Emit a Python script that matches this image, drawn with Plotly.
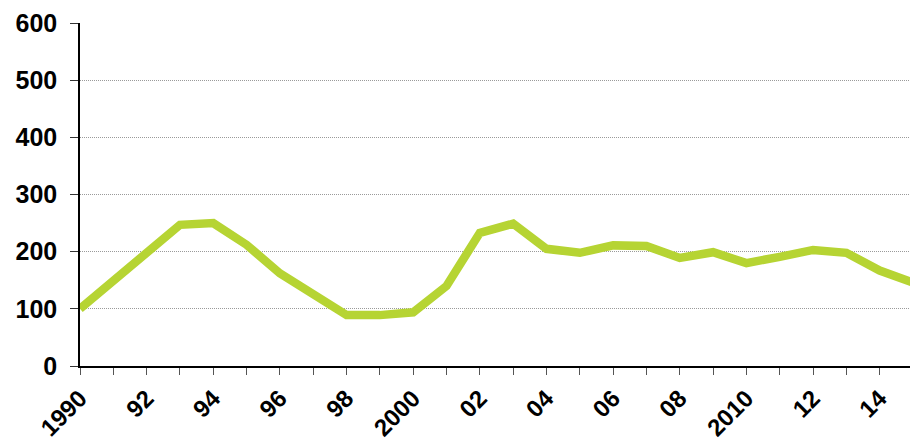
import plotly.graph_objects as go

years = list(range(1990, 2016))
values = [100, 150, 199, 247, 250, 212, 162, 127, 89, 89, 94, 140, 233, 249,
          205, 198, 211, 210, 189, 199, 180, 191, 203, 198, 167, 146]

x_tick_vals = list(range(1990, 2016))
x_tick_text = ["1990", "", "92", "", "94", "", "96", "", "98", "", "2000", "",
               "02", "", "04", "", "06", "", "08", "", "2010", "", "12", "", "14", ""]
y_tick_vals = [0, 100, 200, 300, 400, 500, 600]
grid_vals = [100, 200, 300, 400, 500]

font_family = "Arial, 'Liberation Sans', sans-serif"

fig = go.Figure()
# invisible trace on overlay axis for dotted gridlines
fig.add_trace(go.Scatter(x=[years[0]], y=[0], yaxis="y2", mode="markers",
                         marker=dict(opacity=0), showlegend=False, hoverinfo="skip"))
fig.add_trace(go.Scatter(
    x=years, y=values, mode="lines",
    line=dict(color="#B6D433", width=8.5),
    hoverinfo="skip", showlegend=False,
))

fig.update_layout(
    width=910, height=440,
    margin=dict(l=80, r=0, t=23, b=74),
    paper_bgcolor="white", plot_bgcolor="white",
    font=dict(family=font_family, size=24, color="black"),
    xaxis=dict(
        range=[1990, 2014.91], automargin=False,
        tickmode="array", tickvals=x_tick_vals, ticktext=x_tick_text,
        tickangle=-45, ticks="outside", ticklen=7, tickcolor="#555",
        showline=True, linecolor="black", linewidth=1.5,
        showgrid=False, zeroline=False,
        ticklabelstandoff=0,
        tickfont=dict(family=font_family, size=24, color="black", weight="bold"),
    ),
    yaxis=dict(
        range=[0, 600], automargin=False,
        tickmode="array", tickvals=y_tick_vals,
        ticks="outside", ticklen=8, tickcolor="#333",
        showline=True, linecolor="black", linewidth=1.5,
        showgrid=False, zeroline=False,
        ticklabelstandoff=8,
        tickfont=dict(family=font_family, size=25, color="black", weight="bold"),
    ),
    yaxis2=dict(
        range=[0, 600], overlaying="y", side="left", automargin=False,
        tickmode="array", tickvals=grid_vals,
        showticklabels=False, ticks="",
        showgrid=True, gridcolor="#9a9a9a", griddash="1px,1px", gridwidth=1,
        zeroline=False, showline=False,
    ),
)

fig.write_html("out.html")
